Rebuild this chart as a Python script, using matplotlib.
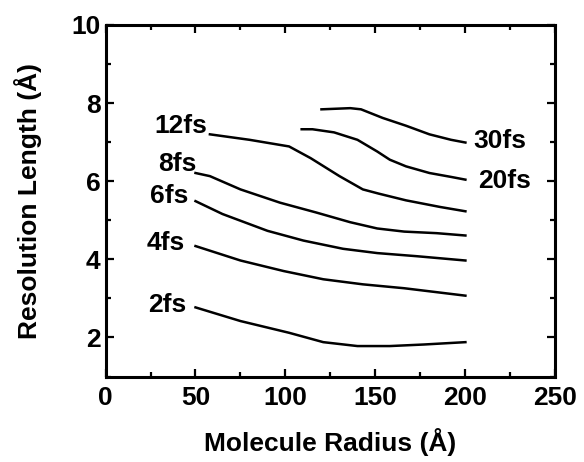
import matplotlib
matplotlib.use("Agg")
import matplotlib.pyplot as plt
from matplotlib.ticker import MultipleLocator

plt.rcParams['font.family'] = ['Liberation Sans', 'DejaVu Sans']
plt.rcParams['font.weight'] = 'bold'

# curves: molecule radius (Å) vs resolution length (Å)
x_2fs = [50, 75, 102, 121, 140, 158, 177, 200]
y_2fs = [2.77, 2.42, 2.12, 1.88, 1.78, 1.78, 1.82, 1.88]
x_4fs = [50, 75, 99, 121, 143, 166, 200]
y_4fs = [4.34, 3.97, 3.70, 3.49, 3.36, 3.26, 3.07]
x_6fs = [50, 65, 90, 110, 132, 151, 173, 200]
y_6fs = [5.49, 5.16, 4.73, 4.48, 4.27, 4.16, 4.08, 3.97]
x_8fs = [50, 58, 75, 97, 117, 136, 151, 166, 184, 200]
y_8fs = [6.21, 6.13, 5.79, 5.45, 5.20, 4.95, 4.79, 4.71, 4.67, 4.61]
x_12fs = [58, 80, 102, 114, 130, 143, 152, 167, 186, 200]
y_12fs = [7.20, 7.06, 6.89, 6.59, 6.13, 5.79, 5.68, 5.51, 5.34, 5.23]
x_20fs = [109, 115, 127, 140, 151, 158, 167, 180, 192, 200]
y_20fs = [7.33, 7.33, 7.25, 7.06, 6.76, 6.55, 6.38, 6.21, 6.11, 6.04]
x_30fs = [120, 136, 142, 154, 167, 180, 192, 200]
y_30fs = [7.84, 7.87, 7.84, 7.62, 7.42, 7.20, 7.06, 6.99]

series = [(x_2fs, y_2fs), (x_4fs, y_4fs), (x_6fs, y_6fs), (x_8fs, y_8fs),
          (x_12fs, y_12fs), (x_20fs, y_20fs), (x_30fs, y_30fs)]

label_texts = ['2fs', '4fs', '6fs', '8fs', '12fs', '20fs', '30fs']
label_x = [45, 44, 46, 50.6, 56.8, 207.3, 204.5]
label_y = [2.65, 4.25, 5.45, 6.25, 7.23, 5.83, 6.85]
label_ha = ['right', 'right', 'right', 'right', 'right', 'left', 'left']

fig = plt.figure(figsize=(5.84, 4.62), dpi=100)
ax = fig.add_axes([0.1807, 0.185, 0.951 - 0.1807, 0.946 - 0.185])

for xs, ys in series:
    ax.plot(xs, ys, color='black', lw=1.8, solid_joinstyle='round')

for t, lx, ly, ha in zip(label_texts, label_x, label_y, label_ha):
    ax.text(lx, ly, t, ha=ha, va='baseline', fontsize=19, fontweight='bold')

ax.set_xlim(0, 250)
ax.set_ylim(1, 10)
ax.xaxis.set_major_locator(MultipleLocator(50))
ax.xaxis.set_minor_locator(MultipleLocator(25))
ax.yaxis.set_major_locator(MultipleLocator(2))
ax.yaxis.set_minor_locator(MultipleLocator(1))
ax.tick_params(which='both', direction='in', top=True, right=True, width=1.6)
ax.tick_params(which='major', length=6, labelsize=19)
ax.tick_params(axis='x', which='major', pad=7)
ax.tick_params(axis='y', which='major', pad=3.5)
ax.tick_params(which='minor', length=3.5)
for lab in ax.get_xticklabels() + ax.get_yticklabels():
    lab.set_fontweight('bold')
for sp in ax.spines.values():
    sp.set_linewidth(2.2)

ax.set_xlabel('Molecule Radius (Å)', fontsize=19, fontweight='bold', labelpad=13)
ax.set_ylabel('Resolution Length (Å)', fontsize=19, fontweight='bold', labelpad=21)

fig.savefig('out.png', dpi=100)
